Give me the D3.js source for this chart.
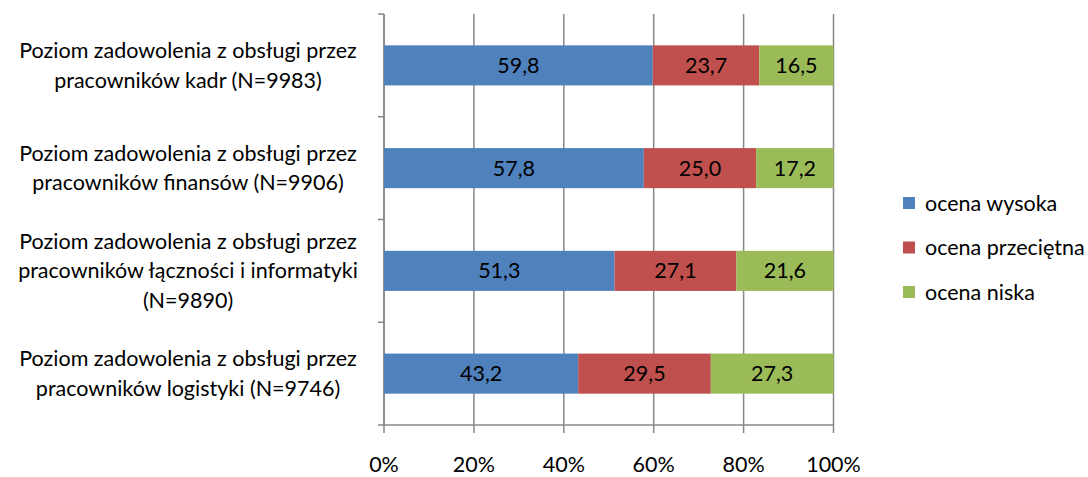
<!DOCTYPE html>
<html><head><meta charset="utf-8">
<script src="https://cdn.jsdelivr.net/npm/d3@7"></script>
<style>body{margin:0;background:#fff}svg{display:block}text{font-family:Lato,"Liberation Sans",sans-serif;fill:#000}</style>
</head><body><svg id="c" width="1088" height="477"></svg>
<script>
const categories = [
  ["Poziom zadowolenia z obsługi przez","pracowników kadr (N=9983)"],
  ["Poziom zadowolenia z obsługi przez","pracowników finansów (N=9906)"],
  ["Poziom zadowolenia z obsługi przez","pracowników łączności i informatyki","(N=9890)"],
  ["Poziom zadowolenia z obsługi przez","pracowników logistyki (N=9746)"]
];
const seriesNames = ["ocena wysoka","ocena przeciętna","ocena niska"];
const wysoka = [59.8,57.8,51.3,43.2];
const przecietna = [23.7,25.0,27.1,29.5];
const niska = [16.5,17.2,21.6,27.3];
const tickValues = [0,0.2,0.4,0.6,0.8,1];
const colors = ["#4F81BD","#C0504D","#9BBB59"];

const FS = 21.5;
const svg = d3.select("#c");
const x = d3.scaleLinear().domain([0,1]).range([384,833.5]);
const y = d3.scaleBand().domain(d3.range(categories.length)).range([14,425]).paddingInner(0.61).paddingOuter(0.305);
const yb = d3.scaleBand().domain(d3.range(categories.length)).range([14,425]);

// gridlines
svg.append("g").selectAll("line").data(tickValues).join("line")
  .attr("x1",d=>x(d)).attr("x2",d=>x(d)).attr("y1",14).attr("y2",433)
  .attr("stroke","#878787").attr("stroke-width",1.5);
// left axis
svg.append("line").attr("x1",384).attr("x2",384).attr("y1",14).attr("y2",425).attr("stroke","#878787").attr("stroke-width",1.5);
const bounds = [14].concat(d3.range(categories.length).map(i=>yb(i)+yb.bandwidth()));
svg.append("g").selectAll("line").data(bounds).join("line")
  .attr("x1",378).attr("x2",384).attr("y1",d=>d).attr("y2",d=>d)
  .attr("stroke","#878787").attr("stroke-width",1.5);
// bottom axis line
svg.append("line").attr("x1",383).attr("x2",834).attr("y1",425).attr("y2",425).attr("stroke","#878787").attr("stroke-width",1.5);

const series = [wysoka,przecietna,niska];
const fmt = v => v.toFixed(1).replace(".",",");
categories.forEach((c,i)=>{
  let acc = 0;
  series.forEach((s,k)=>{
    const v = s[i]/100;
    const x0 = x(acc), x1 = x(acc+v);
    svg.append("rect").attr("x",x0).attr("y",y(i)).attr("width",x1-x0).attr("height",y.bandwidth())
      .attr("fill",colors[k]);
    svg.append("text").attr("x",(x0+x1)/2).attr("y",y(i)+y.bandwidth()/2).attr("dy","0.35em")
      .attr("text-anchor","middle").attr("font-size",FS).text(fmt(s[i]));
    acc += v;
  });
  // category label
  const cy = yb(i)+yb.bandwidth()/2;
  const lh = 29.5;
  const t = svg.append("text").attr("text-anchor","middle").attr("font-size",FS);
  c.forEach((line,j)=>{
    t.append("tspan").attr("x",188).attr("y",cy+(j-(c.length-1)/2)*lh).attr("dy","0.35em").text(line);
  });
});

// x tick labels
svg.append("g").selectAll("text").data(tickValues).join("text")
  .attr("x",d=>x(d)).attr("y",464).attr("dy","0.35em").attr("text-anchor","middle").attr("font-size",FS)
  .text(d=>d3.format(".0%")(d));

// legend
const lg = svg.append("g");
seriesNames.forEach((n,k)=>{
  const ly = 203 + k*44.5;
  lg.append("rect").attr("x",903).attr("y",ly-6).attr("width",12).attr("height",12).attr("fill",colors[k]);
  lg.append("text").attr("x",925).attr("y",ly).attr("dy","0.35em").attr("font-size",FS).text(n);
});
</script></body></html>
